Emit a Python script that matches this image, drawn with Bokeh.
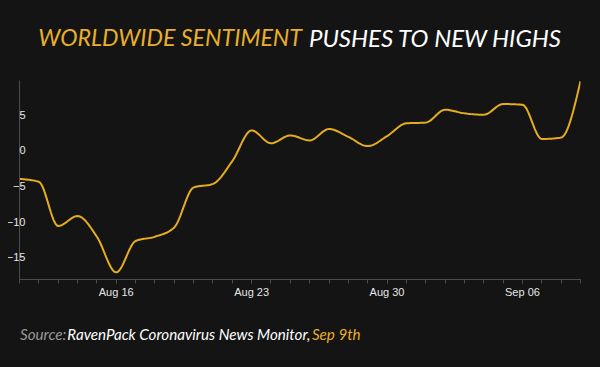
import numpy as np
import pandas as pd
from bokeh.plotting import figure
from bokeh.layouts import column
from bokeh.models import Range1d, FixedTicker, DatetimeTickFormatter, ColumnDataSource
from bokeh.core.properties import value
from bokeh.embed import file_html
from bokeh.resources import INLINE

# ---- data ----
dates = pd.date_range("2020-08-11", "2020-09-09", freq="D")
sentiment = [-4.0, -4.4, -10.6, -9.2, -12.1, -17.1, -12.7, -12.1, -10.8, -5.2,
             -4.7, -1.5, 2.8, 1.0, 2.1, 1.4, 3.0, 1.9, 0.6, 2.0,
             3.8, 3.9, 5.7, 5.2, 5.0, 6.5, 6.4, 1.6, 1.8, 9.7]
week_ticks = pd.to_datetime(["2020-08-16", "2020-08-23", "2020-08-30", "2020-09-06"])
y_ticks = [-15, -10, -5, 0, 5]
title_a = "WORLDWIDE SENTIMENT"
title_b = "PUSHES TO NEW HIGHS"
src_a = "Source:"
src_b = "RavenPack Coronavirus News Monitor,"
src_c = "Sep 9th"

BG = "#141414"
YEL = "#E9AF2A"
LINE = "#E5AC1E"
AX = "#4d4d4d"
FW = 566          # plot frame width (page x 19 .. 585)
W = FW + 16 + 7   # figure width incl. side borders

x_ms = (dates.astype("int64") // 10**6).astype(float).to_numpy()
y = np.asarray(sentiment, float)


def monotone(xs, ys, steps=16):
    """monotone-x cubic rendering (like d3.curveMonotoneX) of the series"""
    n = len(ys)
    h = np.diff(xs)
    s = np.diff(ys) / h
    t = np.zeros(n)
    for i in range(1, n - 1):
        s0, s1 = s[i - 1], s[i]
        p = (s0 * h[i] + s1 * h[i - 1]) / (h[i - 1] + h[i])
        t[i] = (np.sign(s0) + np.sign(s1)) * min(abs(s0), abs(s1), 0.5 * abs(p))
    t[0] = (3 * s[0] - t[1]) / 2
    t[-1] = (3 * s[-1] - t[-2]) / 2
    u = np.linspace(0, 1, steps, endpoint=False)
    ox, oy = [], []
    for i in range(n - 1):
        hh = h[i]
        h00 = 2 * u**3 - 3 * u**2 + 1
        h10 = u**3 - 2 * u**2 + u
        h01 = -2 * u**3 + 3 * u**2
        h11 = u**3 - u**2
        ox.extend(xs[i] + u * hh)
        oy.extend(h00 * ys[i] + h10 * hh * t[i] + h01 * ys[i + 1] + h11 * hh * t[i + 1])
    ox.append(xs[-1]); oy.append(ys[-1])
    return np.array(ox), np.array(oy)


def text_fig(h):
    # text strip whose frame lines up with the chart frame: x = page x - 19
    f = figure(width=W, height=h, output_backend="svg", toolbar_location=None,
               x_range=Range1d(0, FW), y_range=Range1d(0, h),
               x_axis_location=None, y_axis_location=None,
               min_border_left=16, min_border_right=7, min_border_top=0, min_border_bottom=0,
               background_fill_color=BG, border_fill_color=BG,
               outline_line_color=None, styles={"margin-left": "-5px"})
    f.grid.visible = False
    return f


# ---- title ----
pt = text_fig(72)
tfont = dict(text_font=value("Lato"), text_font_style="italic", text_baseline="middle")
pt.text(x=[304 - 19], y=[43.5], text=[title_a], text_color=YEL, text_align="right",
        text_font_size="23.2px", **tfont)
pt.text(x=[311 - 19], y=[43.5], text=[title_b], text_color="#ffffff", text_align="left",
        text_font_size="24px", **tfont)

# ---- main chart ----
sx, sy = monotone(x_ms, y)
src = ColumnDataSource(dict(x=sx, y=sy))

p = figure(width=W, height=229, x_axis_type="datetime",
           output_backend="svg", toolbar_location=None,
           x_range=Range1d(x_ms[0], x_ms[-1]), y_range=Range1d(-18.1, 9.8),
           min_border_left=16, min_border_right=7, min_border_top=0, min_border_bottom=30,
           background_fill_color=BG, border_fill_color=BG, outline_line_color=None,
           styles={"margin-left": "-5px"})
p.grid.visible = False
p.line("x", "y", source=src, line_color=LINE, line_width=2)

xa = p.xaxis[0]
xa.ticker = FixedTicker(ticks=list((week_ticks.astype("int64") // 10**6).astype(float)),
                        minor_ticks=list(x_ms))
fmt = "%b %d"
xa.formatter = DatetimeTickFormatter(days=fmt, months=fmt, hours=fmt, years=fmt)
xa.axis_line_color = AX
xa.major_tick_line_color = AX
xa.minor_tick_line_color = AX
xa.major_tick_out = 4
xa.major_tick_in = 0
xa.minor_tick_out = 4
xa.minor_tick_in = 0
xa.major_label_text_color = "#e6e6e6"
xa.major_label_text_font = "Liberation Sans"
xa.major_label_text_font_size = "11px"
xa.major_label_standoff = 2

ya = p.yaxis[0]
ya.ticker = FixedTicker(ticks=y_ticks)
ya.axis_line_color = AX
ya.major_tick_line_color = AX
ya.minor_tick_line_color = None
ya.major_tick_out = 0
ya.major_tick_in = 3
ya.major_label_text_color = "#e6e6e6"
ya.major_label_text_font = "Liberation Sans"
ya.major_label_text_font_size = "11px"
ya.major_label_text_align = "left"
ya.major_label_standoff = -6

# ---- source ----
ps = text_fig(50)
sfont = dict(text_font=value("Lato"), text_font_style="italic",
             text_baseline="middle", text_font_size="15.2px", text_align="left")
ps.text(x=[0.5], y=[26], text=[src_a], text_color="#9a9a9a", **sfont)
ps.text(x=[67.3 - 19], y=[26], text=[src_b], text_color="#ffffff", **sfont)
ps.text(x=[314 - 19], y=[26], text=[src_c], text_color=YEL, **sfont)

layout = column(pt, p, ps, spacing=0, styles={"background-color": BG})
html = file_html(layout, INLINE)
html = html.replace("<body>", '<body style="background:%s;margin:8px;">' % BG)
open("out.html", "w").write(html)
